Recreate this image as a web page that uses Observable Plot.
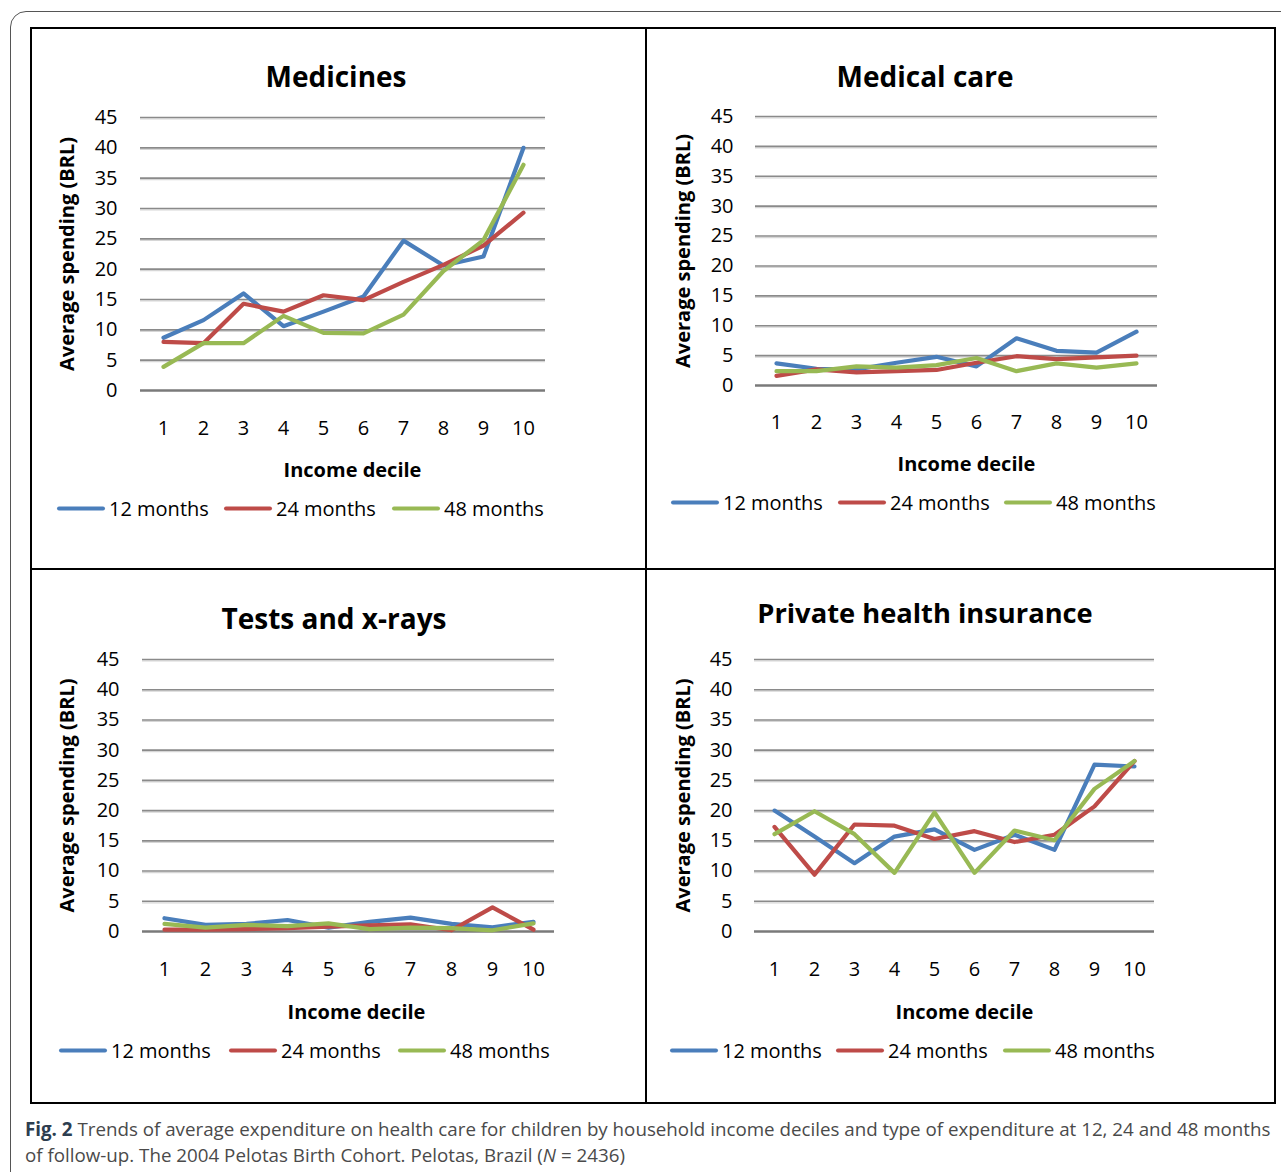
<!DOCTYPE html>
<html>
<head>
<meta charset="utf-8">
<script src="https://cdn.jsdelivr.net/npm/d3@7"></script>
<script src="https://cdn.jsdelivr.net/npm/@observablehq/plot@0.6"></script>
<style>
  html, body { margin: 0; padding: 0; background: #fff; }
  body { width: 1281px; height: 1172px; position: relative; overflow: hidden; font-family: "Open Sans", sans-serif; }
  .abs { position: absolute; }
  .outer { left: 10px; top: 11px; width: 1300px; height: 1200px; border: 1.5px solid #555; border-radius: 16px; box-sizing: border-box; }
  .inner { left: 30px; top: 27px; width: 1246px; height: 1077px; border: 2.5px solid #000; box-sizing: border-box; }
  .vdiv { left: 645px; top: 28px; width: 2px; height: 1075px; background: #000; }
  .hdiv { left: 30px; top: 568px; width: 1245px; height: 2px; background: #000; }
  .title { font-weight: bold; font-size: 28px; color: #000; white-space: nowrap; transform: translate(-50%, -50%); }
  .legend { font-size: 20px; color: #000; white-space: nowrap; }
  .legend .item { position: absolute; top: 0; transform: translateY(-50%); display: flex; align-items: center; }
  .legend .sw { display: inline-block; width: 48px; height: 4px; border-radius: 2px; margin-right: 4px; }
  .caption { left: 25px; font-size: 18.75px; color: #4a4a4a; white-space: nowrap; }
  .caption b { color: #2d3e50; }
</style>
</head>
<body>
<div class="abs outer"></div>
<div class="abs inner"></div>
<div class="abs vdiv"></div>
<div class="abs hdiv"></div>
<div id="root"></div>
<div class="abs caption" id="cap1" style="top:1116px"><b>Fig. 2</b> Trends of average expenditure on health care for children by household income deciles and type of expenditure at 12, 24 and 48 months</div>
<div class="abs caption" id="cap2" style="top:1142px">of follow-up. The 2004 Pelotas Birth Cohort. Pelotas, Brazil (<i>N</i> = 2436)</div>
<script>
// ---------- data ----------
const deciles = [1, 2, 3, 4, 5, 6, 7, 8, 9, 10];
const yTicks = [0, 5, 10, 15, 20, 25, 30, 35, 40, 45];
const seriesNames = ["12 months", "24 months", "48 months"];
const seriesColors = ["#4A7EBB", "#BE4B48", "#98B954"];
const panelTitles = ["Medicines", "Medical care", "Tests and x-rays", "Private health insurance"];
const xLabel = "Income decile";
const yLabel = "Average spending (BRL)";

const medicines12 = [8.7, 11.6, 16.0, 10.6, 13.0, 15.5, 24.7, 20.6, 22.1, 40.0];
const medicines24 = [8.0, 7.8, 14.3, 13.0, 15.7, 14.9, 17.9, 20.7, 23.9, 29.3];
const medicines48 = [3.9, 7.8, 7.8, 12.3, 9.5, 9.4, 12.5, 19.7, 24.8, 37.2];

const medcare12 = [3.7, 2.8, 2.7, 3.8, 4.8, 3.2, 7.9, 5.8, 5.5, 9.0];
const medcare24 = [1.6, 2.7, 2.2, 2.4, 2.6, 3.8, 4.9, 4.4, 4.7, 5.0];
const medcare48 = [2.4, 2.4, 3.2, 3.0, 3.4, 4.6, 2.4, 3.7, 3.0, 3.7];

const tests12 = [2.2, 1.1, 1.25, 1.9, 0.65, 1.6, 2.3, 1.25, 0.7, 1.6];
const tests24 = [0.3, 0.3, 0.4, 0.55, 0.8, 1.0, 1.2, 0.2, 4.0, 0.3];
const tests48 = [1.25, 0.65, 1.1, 0.9, 1.35, 0.4, 0.65, 0.55, 0.2, 1.35];

const insurance12 = [20.0, 15.7, 11.3, 15.7, 16.9, 13.5, 16.0, 13.5, 27.6, 27.3];
const insurance24 = [17.3, 9.4, 17.7, 17.5, 15.3, 16.6, 14.8, 16.0, 20.7, 28.2];
const insurance48 = [16.1, 19.9, 16.1, 9.7, 19.7, 9.7, 16.7, 15.1, 23.6, 28.2];

const panelSeries = [
  [medicines12, medicines24, medicines48],
  [medcare12, medcare24, medcare48],
  [tests12, tests24, tests48],
  [insurance12, insurance24, insurance48]
];

// ---------- layout (page px) ----------
const layouts = [
  {fl: 140, fr: 545, ft: 117, fb: 390, titleX: 336, titleY: 76, titleSize: 28, tickRight: 117, yLabX: 67, xTickY: 428, xLabX: 352, xLabY: 470, legY: 508, legX: [57, 224, 392]},
  {fl: 755, fr: 1157, ft: 116, fb: 385, titleX: 925, titleY: 76, titleSize: 28, tickRight: 733, yLabX: 683, xTickY: 422, xLabX: 966, xLabY: 464, legY: 502, legX: [671, 838, 1004]},
  {fl: 142, fr: 554, ft: 659, fb: 931, titleX: 334, titleY: 618, titleSize: 28, tickRight: 119, yLabX: 67, xTickY: 969, xLabX: 356, xLabY: 1012, legY: 1050, legX: [59, 229, 398]},
  {fl: 754, fr: 1154, ft: 659, fb: 931, titleX: 925, titleY: 612, titleSize: 27.3, tickRight: 732, yLabX: 683, xTickY: 969, xLabX: 964, xLabY: 1012, legY: 1050, legX: [670, 836, 1003]}
];

const root = document.getElementById("root");

layouts.forEach((L, i) => {
  const svgLeft = L.yLabX - 20;
  const svgTop = L.ft - 20;
  const svgW = (L.fr + 20) - svgLeft;
  const svgH = (L.xLabY + 20) - svgTop;

  const rows = [];
  panelSeries[i].forEach((vals, s) => {
    vals.forEach((v, k) => rows.push({decile: deciles[k], value: v, series: seriesNames[s]}));
  });

  const plot = Plot.plot({
    width: svgW,
    height: svgH,
    marginLeft: L.fl - svgLeft,
    marginRight: svgLeft + svgW - L.fr,
    marginTop: L.ft - svgTop,
    marginBottom: svgTop + svgH - L.fb,
    style: {fontFamily: "'Open Sans', sans-serif", fontSize: "20px", color: "#000", background: "transparent", overflow: "visible"},
    x: {type: "point", domain: deciles, padding: 0.5, label: null},
    y: {domain: [0, 45], label: null},
    color: {domain: seriesNames, range: seriesColors},
    marks: [
      Plot.ruleY(yTicks.filter(d => d > 0), {stroke: "#d6d6d6", strokeWidth: 1.2, dy: 1.5}),
      Plot.ruleY(yTicks.filter(d => d > 0), {stroke: "#8a8a8a", strokeWidth: 1.6}),
      Plot.ruleY([0], {stroke: "#7a7a7a", strokeWidth: 2.4}),
      Plot.axisY({ticks: yTicks, tickSize: 0, tickPadding: L.fl - L.tickRight, label: null, fontSize: 20}),
      Plot.axisX({ticks: deciles, tickSize: 0, tickPadding: L.xTickY - L.fb - 8, label: null, fontSize: 20}),
      Plot.line(rows, {x: "decile", y: "value", z: "series", stroke: "series", strokeWidth: 4.2, strokeLinejoin: "round", strokeLinecap: "round"}),
      Plot.text([yLabel], {frameAnchor: "left", textAnchor: "middle", lineAnchor: "middle", dx: -(L.fl - L.yLabX), rotate: -90, fontWeight: "bold", fontSize: 20}),
      Plot.text([xLabel], {frameAnchor: "bottom", textAnchor: "middle", lineAnchor: "middle", dx: L.xLabX - (L.fl + L.fr) / 2, dy: L.xLabY - L.fb, fontWeight: "bold", fontSize: 20})
    ]
  });
  plot.style.position = "absolute";
  plot.style.left = svgLeft + "px";
  plot.style.top = svgTop + "px";
  root.appendChild(plot);

  const t = document.createElement("div");
  t.className = "abs title";
  t.style.left = L.titleX + "px";
  t.style.top = L.titleY + "px";
  t.style.fontSize = L.titleSize + "px";
  t.textContent = panelTitles[i];
  root.appendChild(t);

  const leg = document.createElement("div");
  leg.className = "abs legend";
  leg.style.left = "0px";
  leg.style.top = L.legY + "px";
  seriesNames.forEach((n, s) => {
    const it = document.createElement("div");
    it.className = "item";
    it.style.left = L.legX[s] + "px";
    const sw = document.createElement("span");
    sw.className = "sw";
    sw.style.background = seriesColors[s];
    const tx = document.createElement("span");
    tx.textContent = n;
    it.appendChild(sw);
    it.appendChild(tx);
    leg.appendChild(it);
  });
  root.appendChild(leg);
});
</script>
</body>
</html>
